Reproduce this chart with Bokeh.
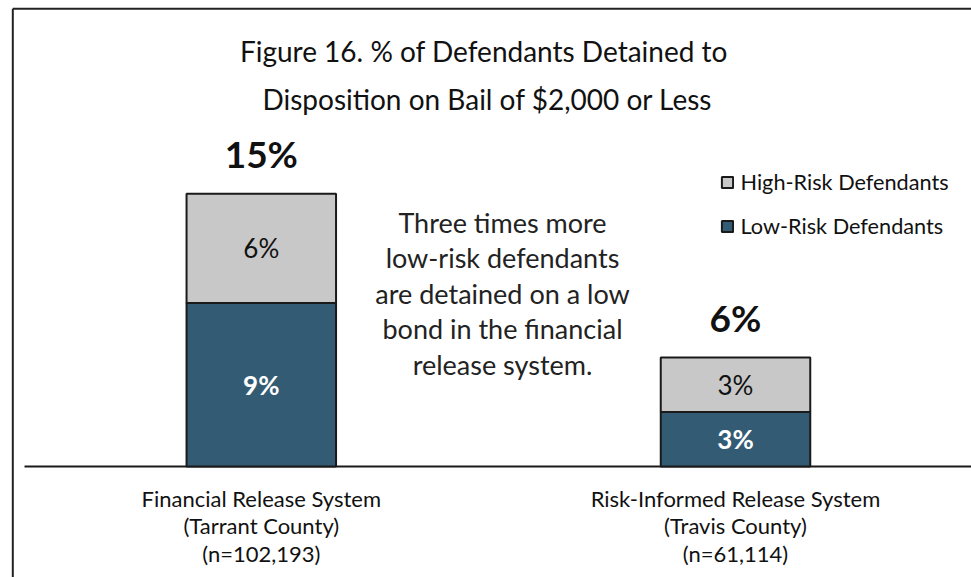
from bokeh.plotting import figure
from bokeh.models import ColumnDataSource, Range1d, Label, Legend, LegendItem
from bokeh.core.properties import value
from bokeh.embed import file_html
from bokeh.resources import INLINE

# ---- data ----
categories = ["Financial Release System", "Risk-Informed Release System"]
counties = ["(Tarrant County)", "(Travis County)"]
sample_sizes = ["(n=102,193)", "(n=61,114)"]
low_risk = [9, 3]
high_risk = [6, 3]
low_labels = ["9%", "3%"]
high_labels = ["6%", "3%"]
total_labels = ["15%", "6%"]
series_names = ["Low-Risk Defendants", "High-Risk Defendants"]
title_lines = ["Figure 16.  % of Defendants Detained to",
               "Disposition on Bail of $2,000 or Less"]
note_text = ("Three times more\nlow-risk defendants\nare detained on a low\n"
             "bond in the financial\nrelease system.")

FONT = "Lato"
BLUE = "#345B74"
GRAY = "#C8C8C8"
EDGE = "#1a1a1a"

W, H = 971, 577
px_x = 474.2   # px per category unit
px_y = 18.18   # px per percent
x_start = 0.5 - 260.8 / px_x
x_end = x_start + W / px_x
y_end = 466 / px_y
y_start = y_end - H / px_y

xs = [i + 0.5 for i in range(len(categories))]
totals = [a + b for a, b in zip(low_risk, high_risk)]
src = ColumnDataSource(dict(
    x=xs, low=low_risk, high=high_risk, total=totals,
    low_mid=[v / 2 for v in low_risk],
    high_mid=[a + b / 2 for a, b in zip(low_risk, high_risk)],
    low_lab=low_labels, high_lab=high_labels, tot_lab=total_labels,
    cat_lab=[f"{c}\n{t}\n{n}" for c, t, n in zip(categories, counties, sample_sizes)],
))

p = figure(width=W, height=H, output_backend="svg", toolbar_location=None,
           x_range=Range1d(x_start, x_end), y_range=Range1d(y_start, y_end),
           min_border=0, min_border_left=0, min_border_right=0,
           min_border_top=0, min_border_bottom=0)
p.axis.visible = False
p.grid.visible = False
p.outline_line_color = None
p.background_fill_color = "white"
p.border_fill_color = "white"

# chart-area border (top and left edges)
bx = x_start + 12.3 / px_x
by = y_end - 8.3 / px_y
p.segment(x0=[bx, bx], y0=[by, by], x1=[x_end, bx], y1=[by, y_start],
          line_color="#222222", line_width=2)

# baseline
p.segment(x0=[x_start + 24.0 / px_x], y0=[0], x1=[x_end], y1=[0],
          line_color=EDGE, line_width=2)

rs = p.vbar_stack(["low", "high"], x="x", width=149.5 / px_x, source=src,
                  color=[BLUE, GRAY], line_color=EDGE, line_width=2)

# segment labels
p.text(x="x", y="high_mid", text="high_lab", source=src, text_align="center",
       text_baseline="middle", text_font=value(FONT), text_font_size="26px",
       text_color="#111111")
p.text(x="x", y="low_mid", text="low_lab", source=src, text_align="center",
       text_baseline="middle", text_font=value(FONT), text_font_size="26px",
       text_font_style="bold", text_color="white")
# totals
p.text(x="x", y="total", text="tot_lab", source=src, text_align="center",
       text_baseline="alphabetic", y_offset=-40, text_font=value(FONT),
       text_font_size="37px", text_font_style="bold", text_color="#111111")
# category labels
p.text(x="x", y=0, text="cat_lab", source=src, text_align="center",
       text_baseline="top", y_offset=18, text_font=value(FONT),
       text_font_size="22px", text_line_height=1.03, text_color="#111111")

# title
title_y = [H - 50, H - 98]
for line, ty in zip(title_lines, title_y):
    p.add_layout(Label(x=487, y=ty, x_units="screen", y_units="screen",
                       text=line, text_align="center", text_baseline="alphabetic",
                       text_font=FONT, text_font_size="28px",
                       text_color="#111111"))

# note
p.add_layout(Label(x=502, y=H - 205, x_units="screen", y_units="screen",
                   text=note_text, text_align="center", text_baseline="top",
                   text_font=FONT, text_font_size="27px",
                   text_line_height=1.08, text_color="#222222"))

legend = Legend(items=[LegendItem(label=series_names[1], renderers=[rs[1]]),
                       LegendItem(label=series_names[0], renderers=[rs[0]])],
                location=(719.5, 338), orientation="vertical",
                glyph_width=14, glyph_height=14, label_standoff=7,
                label_text_font=FONT, label_text_font_size="21.7px",
                label_text_color="#111111", label_height=26, spacing=18,
                padding=0, margin=0, border_line_alpha=0,
                background_fill_alpha=0)
p.add_layout(legend)

open("out.html", "w").write(file_html(p, INLINE))
